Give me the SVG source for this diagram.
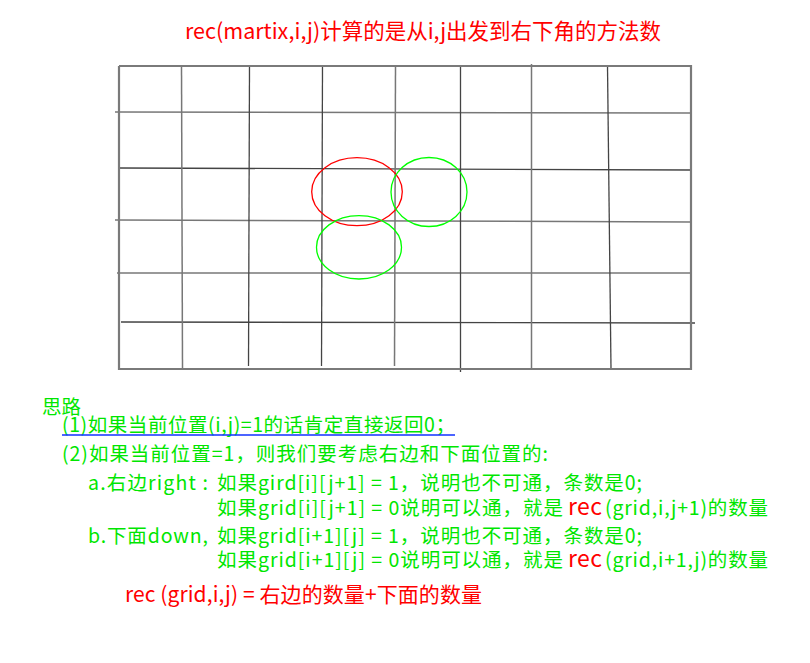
<svg xmlns="http://www.w3.org/2000/svg" width="810" height="663" viewBox="0 0 810 663">
<style>
.t{font-family:"Noto Sans CJK SC","Noto Sans",sans-serif;}
.g{fill:#00e600;font-size:19.5px;}
.r{fill:#ff0000;}
.b{stroke:#7a7a7a;stroke-width:2.2;fill:none;}
.l{stroke:#444;stroke-width:1.3;fill:none;}
.l2{stroke:#777;stroke-width:1.5;fill:none;}
</style>
<rect width="810" height="663" fill="#fff"/>
<g id="title"><text class="t r" x="185" y="39" font-size="21.5">rec(martix,i,j)计算的是从i,j出发到右下角的方法数</text></g>
<g id="grid">
<line class="l2" x1="115" y1="112" x2="691" y2="113"/>
<line class="l" x1="119" y1="168" x2="691" y2="170"/>
<line class="l2" x1="115" y1="220" x2="691" y2="222"/>
<line class="l2" x1="117" y1="273" x2="690" y2="273"/>
<line class="l" x1="121" y1="322" x2="695" y2="323"/>
<line class="l2" x1="181.5" y1="66" x2="182.5" y2="368"/>
<line class="l" x1="249.5" y1="66" x2="248.5" y2="366"/>
<line class="l" x1="322.5" y1="66" x2="321.5" y2="366"/>
<line class="l2" x1="395.5" y1="66" x2="394.5" y2="366"/>
<line class="l" x1="460.5" y1="66" x2="460.5" y2="372"/>
<line class="l2" x1="531.5" y1="64" x2="531.5" y2="370"/>
<line class="l" x1="607.5" y1="66" x2="611" y2="369"/>
<polyline class="b" points="119,66 691,66 691,369 119,369 119,66"/>
</g>
<g id="circles" fill="none" stroke-width="1.3">
<ellipse cx="357" cy="191.7" rx="45.3" ry="34" stroke="#ff0000"/>
<ellipse cx="429" cy="192" rx="38" ry="34.5" stroke="#00ff00"/>
<ellipse cx="359" cy="247.3" rx="42.5" ry="31.7" stroke="#00ff00"/>
</g>
<g id="notes">
<text class="t g" x="42" y="414" font-size="20">思路</text>
<text class="t g" x="62" y="432" textLength="393">(1)如果当前位置(i,j)=1的话肯定直接返回0；</text>
<line x1="62" y1="435" x2="455" y2="435" stroke="#1030ff" stroke-width="1.5"/>
<text class="t g" x="62" y="461" textLength="486">(2)如果当前位置=1，则我们要考虑右边和下面位置的:</text>
<text class="t g" x="88" y="490" textLength="120">a.右边right :</text>
<text class="t g" x="217" y="490" textLength="425">如果gird[i][j+1] = 1，说明也不可通，条数是0;</text>
<text class="t g" x="217" y="515" textLength="346">如果grid[i][j+1] = 0说明可以通，就是</text>
<text class="t r" x="568" y="515" font-size="23" textLength="34">rec</text>
<text class="t g" x="605" y="515" textLength="163">(grid,i,j+1)的数量</text>
<text class="t g" x="88" y="543" textLength="120">b.下面down,</text>
<text class="t g" x="217" y="543" textLength="425">如果grid[i+1][j] = 1，说明也不可通，条数是0;</text>
<text class="t g" x="217" y="567" textLength="346">如果grid[i+1][j] = 0说明可以通，就是</text>
<text class="t r" x="568" y="567" font-size="23" textLength="34">rec</text>
<text class="t g" x="605" y="567" textLength="163">(grid,i+1,j)的数量</text>
</g>
<g id="formula"><text class="t r" x="125" y="602" font-size="21" textLength="357">rec (grid,i,j) = 右边的数量+下面的数量</text></g>
</svg>
